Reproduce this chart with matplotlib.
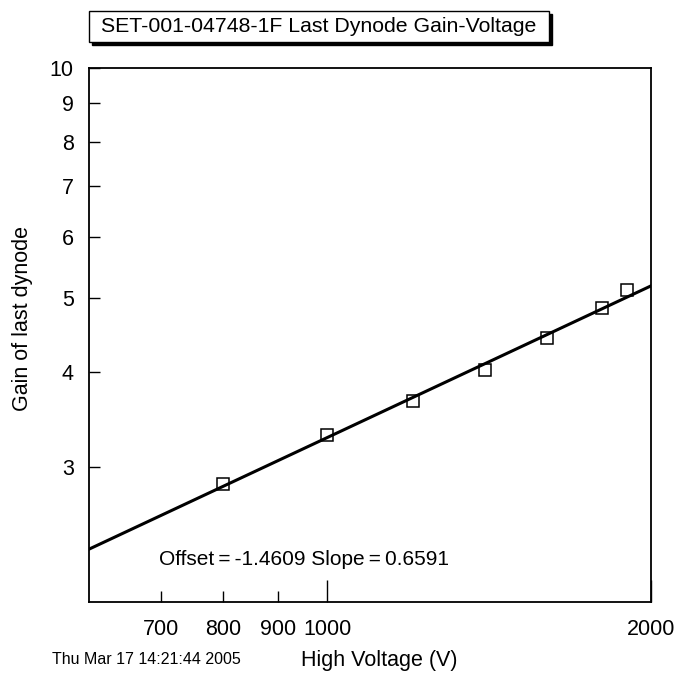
import numpy as np
import matplotlib.pyplot as plt
from matplotlib.patches import Rectangle

plt.rcParams['font.family'] = ['Liberation Sans', 'DejaVu Sans']

voltage = [800, 1000, 1200, 1400, 1600, 1800, 1900]
gain = [2.85, 3.31, 3.67, 4.03, 4.43, 4.85, 5.12]
offset = -1.4609
slope = 0.6591

fig = plt.figure(figsize=(6.92, 6.73), dpi=100)
ax = fig.add_axes([89/692, 1-602/673, (651-89)/692, (602-68)/673])

vfit = np.linspace(600, 2000, 50)
gfit = 10**(offset + slope*np.log10(vfit))
ax.plot(vfit, gfit, color='black', linewidth=2.2)
ax.plot(voltage, gain, linestyle='none', marker='s', markersize=8.5,
        markerfacecolor='none', markeredgecolor='black', markeredgewidth=1.1)

ax.set_xscale('log')
ax.set_yscale('log')
ax.set_xlim(600, 2000)
ax.set_ylim(2, 10)

fmt = plt.FuncFormatter(lambda v, p: f'{v:.0f}')
ax.xaxis.set_major_locator(plt.FixedLocator([1000, 2000]))
ax.xaxis.set_minor_locator(plt.FixedLocator([700, 800, 900]))
ax.xaxis.set_major_formatter(fmt)
ax.xaxis.set_minor_formatter(fmt)
ax.yaxis.set_major_locator(plt.FixedLocator([10]))
ax.yaxis.set_minor_locator(plt.FixedLocator([3, 4, 5, 6, 7, 8, 9]))
ax.yaxis.set_major_formatter(fmt)
ax.yaxis.set_minor_formatter(fmt)

ax.tick_params(which='both', direction='in', labelsize=15.5, width=1)
ax.tick_params(axis='x', which='major', length=16, pad=12.5)
ax.tick_params(axis='x', which='minor', length=8, pad=12.5)
ax.tick_params(axis='y', which='both', length=8, pad=11)
for s in ax.spines.values():
    s.set_linewidth(1.3)

ax.set_xlabel('High Voltage (V)', fontsize=15.5, labelpad=7, x=0.516)
ax.set_ylabel('Gain of last dynode', fontsize=15.5, labelpad=12, y=0.53)

ax.text(0.124, 0.08, f'Offset\u2009=\u2009{offset:.4f} Slope\u2009=\u2009{slope:.4f}',
        transform=ax.transAxes, fontsize=15, ha='left', va='center')

fig.text(52/692, 1-659/673, 'Thu Mar 17 14:21:44 2005', fontsize=11.5, ha='left', va='center')

# title box with shadow
bx, by, bw, bh = 89/692, 1-42/673, (549-89)/692, 31/673
fig.patches.append(Rectangle((bx+3/692, by-3/673), bw, bh, transform=fig.transFigure,
                             facecolor='black', edgecolor='black'))
fig.patches.append(Rectangle((bx, by), bw, bh, transform=fig.transFigure,
                             facecolor='white', edgecolor='black', linewidth=1))
fig.text(bx+bw/2, by+bh/2, 'SET-001-04748-1F Last Dynode Gain-Voltage', fontsize=15.3,
         ha='center', va='center')

fig.savefig('out.png', dpi=100)
